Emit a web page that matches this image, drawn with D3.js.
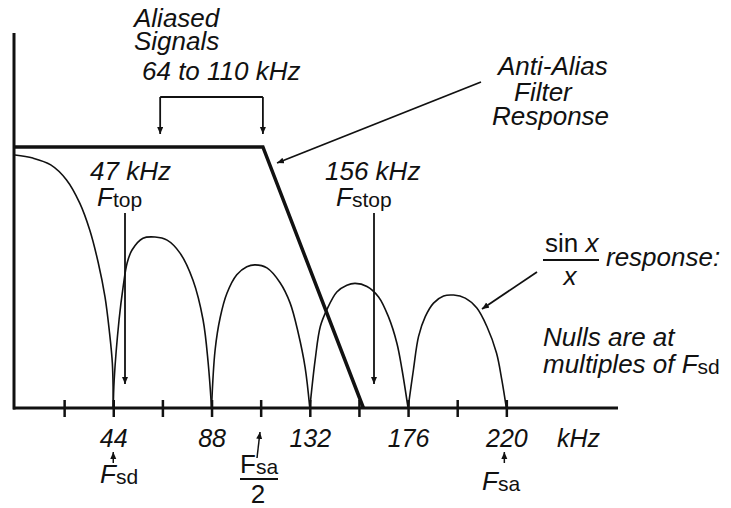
<!DOCTYPE html>
<html>
<head>
<meta charset="utf-8">
<script src="https://cdn.jsdelivr.net/npm/d3@7"></script>
<style>
  html, body { margin: 0; padding: 0; background: #fff; }
  svg { display: block; }
  text { font-family: "Liberation Sans", Arial, Helvetica, sans-serif; fill: #111; }
</style>
</head>
<body>
<div id="chart"></div>
<script>
// frequency axis in kHz, level in dB
const tickKHz = [22, 44, 66, 88, 110, 132, 154, 176, 198, 220];
const tickLabels = [44, 88, 132, 176, 220];

// anti-alias filter response: flat, then rolls off to the stop band edge
const filterKHz = [0, 111, 156];
const filterDb = [1.3, 1.3, -41];

// sin x / x response, one lobe between each pair of nulls [kHz, dB]
const lobe0 = [[0, 0], [8, -0.5], [16, -1.6], [23, -4], [29, -7.8], [33.5, -12.2],
  [37.3, -17.5], [40.3, -23], [42.2, -28.4], [43.6, -33.8], [44, -41]];
const lobe1 = [[44, -41], [44.4, -36.5], [46.6, -26.7], [48.4, -21.4], [50.2, -17.5],
  [52.4, -15.4], [57.3, -13.5], [62.7, -13.3], [68.1, -13.8], [73.9, -15.9],
  [79.7, -20.3], [84.2, -26.7], [86.5, -33.7], [88, -41]];
const lobe2 = [[88, -41], [89.6, -31.6], [91.9, -26.3], [94.9, -22.4], [99.3, -19.4],
  [103.8, -18.1], [107.5, -17.8], [112.8, -18.3], [118.7, -20.7], [123.2, -24],
  [126.8, -28.8], [129.9, -34.4], [132, -41]];
const lobe3 = [[132, -41], [134.4, -33.2], [136.7, -27.8], [139.6, -25.1], [144.1, -22.2],
  [148.6, -21.1], [152.3, -20.8], [157.6, -21.3], [162.8, -23], [167.2, -26.2],
  [171, -30.5], [173.3, -34.8], [176, -41]];
const lobe4 = [[176, -41], [178.4, -34.8], [180.7, -29.4], [183.7, -26.2], [187.4, -24],
  [191.9, -22.85], [196.4, -22.7], [201.6, -23.2], [206.8, -24.8], [211.3, -27.8],
  [215.6, -32.1], [218, -36.5], [220, -41]];

const W = 731, H = 508;
const svg = d3.select("#chart").append("svg")
  .attr("width", W)
  .attr("height", H);

const x = d3.scaleLinear().domain([0, 270]).range([15, 618]);
const y = d3.scaleLinear().domain([-41, 0]).range([408, 155]);
const y0 = y(-41);

// arrowhead
svg.append("defs").append("marker")
  .attr("id", "arrow")
  .attr("markerUnits", "userSpaceOnUse")
  .attr("markerWidth", 9).attr("markerHeight", 8)
  .attr("refX", 7).attr("refY", 3)
  .attr("orient", "auto")
  .append("path")
  .attr("d", "M0,0L7,3L0,6Z")
  .attr("fill", "#111");

// axes
svg.append("line")
  .attr("x1", 14).attr("x2", 14)
  .attr("y1", 33).attr("y2", y0 + 1.5)
  .attr("stroke", "#111").attr("stroke-width", 3);

svg.append("line")
  .attr("x1", 13).attr("x2", x(270))
  .attr("y1", y0).attr("y2", y0)
  .attr("stroke", "#111").attr("stroke-width", 3);

const gx = svg.append("g")
  .attr("transform", `translate(0,${y0})`)
  .call(d3.axisBottom(x)
    .tickValues(tickKHz)
    .tickSize(9)
    .tickFormat(d => tickLabels.includes(d) ? d : ""));
gx.select(".domain").remove();
gx.selectAll(".tick line")
  .attr("y1", -8)
  .attr("stroke", "#111")
  .attr("stroke-width", 2.5);
gx.selectAll(".tick text")
  .attr("y", 39)
  .attr("dy", null)
  .attr("fill", "#111")
  .style("font-size", "25px")
  .style("font-style", "italic");

// sin x / x lobes
const line = d3.line()
  .x(d => x(d[0]))
  .y(d => y(d[1]))
  .curve(d3.curveCatmullRom.alpha(0.5));

svg.selectAll(".lobe")
  .data([lobe0, lobe1, lobe2, lobe3, lobe4])
  .enter()
  .append("path")
  .attr("class", "lobe")
  .attr("d", line)
  .attr("fill", "none")
  .attr("stroke", "#111")
  .attr("stroke-width", 1.6);

// filter response
svg.append("path")
  .datum(filterKHz.map((f, i) => [f, filterDb[i]]))
  .attr("d", d3.line().x(d => x(d[0])).y(d => y(d[1])))
  .attr("fill", "none")
  .attr("stroke", "#111")
  .attr("stroke-width", 3.5)
  .attr("stroke-linejoin", "miter");

// helpers for annotations
function label(tx, ty, str, size, italic, anchor) {
  return svg.append("text")
    .attr("x", tx).attr("y", ty)
    .attr("text-anchor", anchor || "start")
    .style("font-size", size + "px")
    .style("font-style", italic ? "italic" : "normal")
    .text(str);
}
function subLabel(tx, ty, main, sub, italic) {
  const t = svg.append("text").attr("x", tx).attr("y", ty).style("font-size", "26px");
  t.append("tspan").style("font-style", italic ? "italic" : "normal").text(main);
  t.append("tspan").attr("dy", 1).style("font-size", "21px").text(sub);
  return t;
}
function arrow(x1, y1, x2, y2, w) {
  svg.append("line")
    .attr("x1", x1).attr("y1", y1).attr("x2", x2).attr("y2", y2)
    .attr("stroke", "#111").attr("stroke-width", w || 1.8)
    .attr("marker-end", "url(#arrow)");
}

// aliased signals bracket
label(134, 27, "Aliased", 26, true);
label(134, 50, "Signals", 26, true);
label(142, 80, "64 to 110 kHz", 26, true);
svg.append("line")
  .attr("x1", x(65)).attr("x2", x(111))
  .attr("y1", 97).attr("y2", 97)
  .attr("stroke", "#111").attr("stroke-width", 2);
arrow(x(65), 97, x(65), 134);
arrow(x(111), 97, x(111), 134);

// filter label
label(498, 75, "Anti-Alias", 26, true);
label(514, 101, "Filter", 26, true);
label(492, 125, "Response", 26, true);
arrow(481, 82, 277, 163);

// F top / F stop
label(90, 180, "47 kHz", 26, true);
subLabel(97, 206, "F", "top", true);
arrow(125, 213, 125, 384);

label(325, 180, "156 kHz", 26, true);
subLabel(336, 206, "F", "stop", true);
arrow(374, 213, 374, 384);

// sin x / x label
const num = svg.append("text").attr("x", 545).attr("y", 252).style("font-size", "26px");
num.append("tspan").text("sin ");
num.append("tspan").style("font-style", "italic").text("x");
svg.append("line")
  .attr("x1", 543).attr("x2", 599)
  .attr("y1", 260).attr("y2", 260)
  .attr("stroke", "#111").attr("stroke-width", 2);
label(570, 285, "x", 26, true, "middle");
label(606, 266, "response:", 26, true);
arrow(537, 272, 482, 309);

label(543, 346, "Nulls are at", 26, true);
subLabel(543, 373, "multiples of F", "sd", true);

// bottom annotations
label(557, 447, "kHz", 25, true);

arrow(x(44), 463, x(44), 452, 1.5);
subLabel(100, 483, "F", "sd", true);

arrow(257, 458, 260, 432, 1.5);
subLabel(240, 473, "F", "sa", false);
svg.append("line")
  .attr("x1", 240).attr("x2", 278)
  .attr("y1", 479).attr("y2", 479)
  .attr("stroke", "#111").attr("stroke-width", 2);
label(258, 503, "2", 26, false, "middle");

arrow(x(220) - 2, 463, x(220) - 2, 452, 1.5);
subLabel(482, 490, "F", "sa", true);
</script>
</body>
</html>
